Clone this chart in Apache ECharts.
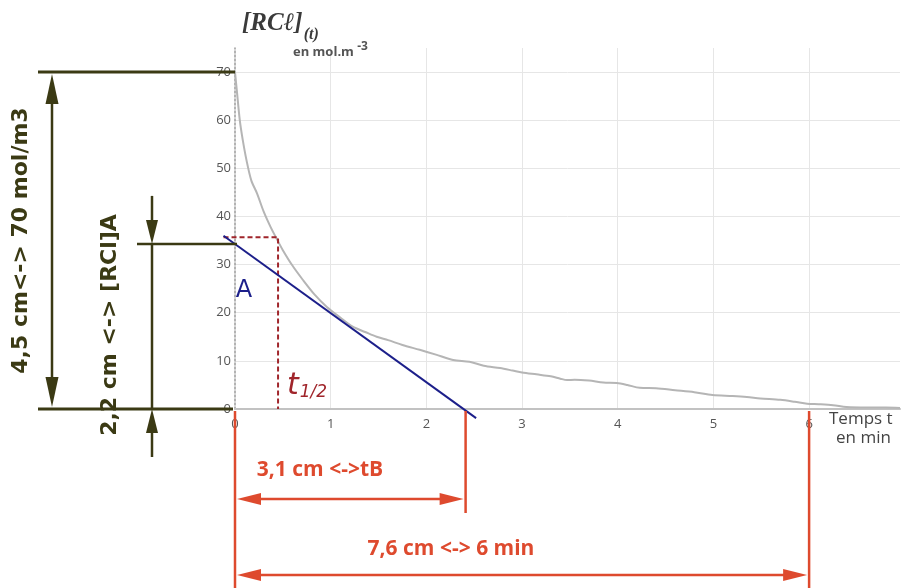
<!DOCTYPE html>
<html>
<head>
<meta charset="utf-8">
<script src="https://cdn.jsdelivr.net/npm/echarts@6/dist/echarts.min.js"></script>
<style>html,body{margin:0;padding:0;background:#fff}#c{width:903px;height:588px}</style>
</head>
<body>
<div id="c"></div>
<script>
// ---- data ----
const timeMin = [0, 0.02, 0.05, 0.08, 0.12, 0.17, 0.23, 0.3, 0.37, 0.44, 0.5, 0.6, 0.71, 0.83, 0.96, 1.1, 1.23, 1.36, 1.48, 1.6, 1.75, 1.93, 2.1, 2.28, 2.45, 2.6, 2.77, 2.9, 3.0, 3.15, 3.3, 3.4, 3.47, 3.55, 3.7, 3.85, 3.99, 4.1, 4.23, 4.4, 4.6, 4.8, 4.99, 5.2, 5.35, 5.49, 5.7, 5.85, 5.98, 6.1, 6.25, 6.39, 6.6, 6.8, 6.95];
const concentration = [70, 66, 60, 56, 51.7, 47.5, 44.8, 41, 37.9, 35.2, 33, 29.8, 26.8, 23.8, 21.2, 19, 17.1, 16, 15, 14.3, 13.3, 12.3, 11.3, 10.2, 9.8, 9.0, 8.5, 8.0, 7.6, 7.2, 6.8, 6.3, 6.0, 6.1, 5.9, 5.5, 5.4, 5.0, 4.4, 4.3, 3.9, 3.5, 2.9, 2.7, 2.5, 2.2, 1.9, 1.5, 1.1, 1.0, 0.8, 0.4, 0.3, 0.3, 0.2];
const halfLifeX = [-0.12, 0.45, 0.45];
const halfLifeY = [35.7, 35.7, 0];
const tangentX = [-0.12, 2.52];
const tangentY = [36.0, -1.9];
const xTickLabels = ['0', '1', '2', '3', '4', '5', '6'];
const yTickLabels = ['0', '10', '20', '30', '40', '50', '60', '70'];
const refC0 = [70];          // 4,5 cm <-> 70 mol/m3
const refCA = [34.3];        // [RCl]A
const refTB = [2.41];        // tB
const refT6 = [6];           // 6 min

const OLIVE = '#3b3a14', RED = '#de4a2e', BLUE = '#1c1f8a', DRED = '#a0252b';

const chart = echarts.init(document.getElementById('c'));
const option = {
  animation: false,
  grid: { left: 235, top: 48, width: 665, height: 361 },
  xAxis: {
    type: 'value', min: 0, max: 6.95, interval: 1,
    axisLine: { lineStyle: { color: '#c2c2c2', width: 2 } },
    axisTick: { show: false },
    axisLabel: { showMaxLabel: false, color: '#555', fontSize: 13, margin: 9, fontFamily: 'Open Sans',
      formatter: v => xTickLabels[Math.round(v)] },
    splitLine: { show: true, showMinLine: false, showMaxLine: false, lineStyle: { color: '#e6e6e6', width: 1 } }
  },
  yAxis: {
    type: 'value', min: 0, max: 75, interval: 10,
    axisLine: { show: true, lineStyle: { color: '#9a9a9a', width: 1.5, type: [2, 2] } },
    axisTick: { show: false },
    axisLabel: { showMaxLabel: false, color: '#555', fontSize: 13, margin: 4, fontFamily: 'Open Sans',
      formatter: v => yTickLabels[Math.round(v / 10)] },
    splitLine: { show: true, showMinLine: false, showMaxLine: false, lineStyle: { color: '#e6e6e6', width: 1 } }
  },
  series: [
    { type: 'line', data: timeMin.map((t, i) => [t, concentration[i]]), showSymbol: false, smooth: 0.3,
      lineStyle: { color: '#b5b5b5', width: 2 }, z: 3 }
  ]
};
chart.setOption(option);

function P(x, y) { return chart.convertToPixel({ gridIndex: 0 }, [x, y]); }
function seg(x1, y1, x2, y2, color, w) {
  return { type: 'line', shape: { x1, y1, x2, y2 }, style: { stroke: color, lineWidth: w }, z: 10 };
}
function head(tx, ty, dx, dy, color, L, W) {
  const n = Math.hypot(dx, dy); dx /= n; dy /= n;
  const nx = -dy, ny = dx;
  return { type: 'polygon', shape: { points: [[tx, ty], [tx - L * dx + W * nx, ty - L * dy + W * ny], [tx - L * dx - W * nx, ty - L * dy - W * ny]] },
    style: { fill: color }, z: 11 };
}
function txt(x, y, text, color, size, rot, extra) {
  return Object.assign({ type: 'text', x, y, rotation: rot || 0, z: 12,
    style: Object.assign({ text, fill: color, fontSize: size, fontWeight: 'bold', fontFamily: 'Open Sans', align: 'center', verticalAlign: 'middle' }, extra || {}) });
}

const o = P(0, 0);
const p70 = P(0, refC0[0]);
const pA = P(0, refCA[0]);
const pB = P(refTB[0], 0);
const p6 = P(refT6[0], 0);
const x0 = o[0], y0 = o[1];
const g = [];
// half-life construction and tangent, through the axis scales
g.push({ type: 'polyline', z: 6, shape: { points: halfLifeX.map((t, i) => P(t, halfLifeY[i])) },
  style: { stroke: DRED, lineWidth: 2, lineDash: [5, 3], fill: null } });
g.push({ type: 'polyline', z: 7, shape: { points: tangentX.map((t, i) => P(t, tangentY[i])) },
  style: { stroke: BLUE, lineWidth: 2, fill: null } });
// olive: 70 mol/m3
g.push(seg(38, p70[1], x0, p70[1], OLIVE, 3));
g.push(seg(38, y0, x0 - 2, y0, OLIVE, 3));
g.push(seg(52, p70[1] + 20, 52, y0 - 20, OLIVE, 2.5));
g.push(head(52, p70[1] + 2, 0, -1, OLIVE, 30, 6.5));
g.push(head(52, y0 - 2, 0, 1, OLIVE, 30, 6.5));
g.push(txt(21, (p70[1] + y0) / 2, '4,5 cm<-> 70 mol/m3', OLIVE, 22, Math.PI / 2, { fontFamily: 'DejaVu Sans' }));
// olive: [RCl]A
g.push(seg(137, pA[1], x0 + 2, pA[1], OLIVE, 2.5));
g.push(seg(152, pA[1], 152, y0, OLIVE, 2.5));
g.push(seg(152, pA[1] - 48, 152, pA[1] - 20, OLIVE, 2.5));
g.push(head(152, pA[1], 0, 1, OLIVE, 24, 6));
g.push(seg(152, y0 + 48, 152, y0 + 20, OLIVE, 2.5));
g.push(head(152, y0, 0, -1, OLIVE, 24, 6));
g.push(txt(110, 325, '2,2 cm <-> [RCl]A', OLIVE, 22, Math.PI / 2, { fontFamily: 'DejaVu Sans' }));
// red: tB and 6 min
g.push(seg(x0, y0 + 2, x0, 588, RED, 2.5));
g.push(seg(pB[0], y0 + 2, pB[0], 513, RED, 2.5));
g.push(seg(p6[0], y0 + 2, p6[0], 588, RED, 2.5));
g.push(seg(x0 + 20, 499, pB[0] - 20, 499, RED, 2.5));
g.push(head(x0 + 2, 499, -1, 0, RED, 24, 6));
g.push(head(pB[0] - 2, 499, 1, 0, RED, 24, 6));
g.push(txt(320, 470, '3,1 cm <->tB', RED, 21, 0));
g.push(seg(x0 + 20, 575, p6[0] - 20, 575, RED, 2.5));
g.push(head(x0 + 2, 575, -1, 0, RED, 24, 6));
g.push(head(p6[0] - 2, 575, 1, 0, RED, 24, 6));
g.push(txt(451, 549, '7,6 cm <-> 6 min', RED, 21, 0));
// handwritten labels
g.push(txt(244, 291, 'A', BLUE, 24, 0, { fontWeight: 'normal', fontFamily: 'DejaVu Sans' }));
g.push({ type: 'text', x: 287, y: 386, z: 12, style: { text: '{t|t}{s|1/2}', fill: DRED, verticalAlign: 'middle',
  rich: { t: { fontSize: 30, fontFamily: 'DejaVu Sans', fontStyle: 'italic', fill: DRED, verticalAlign: 'bottom' },
          s: { fontSize: 17, fontFamily: 'DejaVu Sans', fontStyle: 'italic', fill: DRED, verticalAlign: 'bottom', padding: [0, 0, 0, 1] } } } });
// axis titles
g.push({ type: 'text', x: 242, y: 24, z: 12, style: { text: '{a|[RCℓ]}{b|(t)}', verticalAlign: 'middle',
  rich: { a: { fontSize: 25, fontFamily: 'Liberation Serif', fontStyle: 'italic', fontWeight: 'bold', fill: '#3a3a3a', verticalAlign: 'bottom' },
          b: { fontSize: 16, fontFamily: 'Liberation Serif', fontStyle: 'italic', fontWeight: 'bold', fill: '#3a3a3a', verticalAlign: 'bottom', padding: [0, 0, -6, 1] } } } });
g.push({ type: 'text', x: 293, y: 52, z: 12, style: { text: '{a|en mol.m }{b|-3}', verticalAlign: 'middle',
  rich: { a: { fontSize: 13, fontFamily: 'Open Sans', fontWeight: 'bold', fill: '#555' }, b: { fontSize: 12, fontFamily: 'Open Sans', fontWeight: 'bold', fill: '#555', padding: [0, 0, 10, 0] } } } });
g.push({ type: 'text', x: 829, y: 419, z: 12, style: { text: 'Temps t', fill: '#444', fontSize: 17, fontFamily: 'Open Sans', verticalAlign: 'middle' } });
g.push({ type: 'text', x: 836, y: 438, z: 12, style: { text: 'en min', fill: '#444', fontSize: 17, fontFamily: 'Open Sans', verticalAlign: 'middle' } });

chart.setOption({ graphic: g });
</script>
</body>
</html>
